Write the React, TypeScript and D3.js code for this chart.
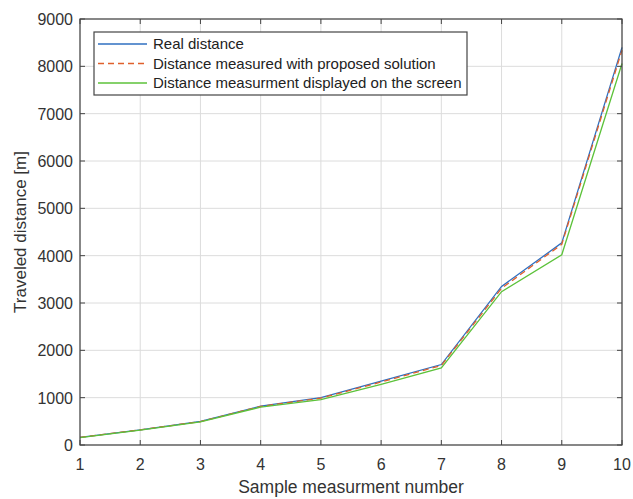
import React from "react";
import * as d3 from "d3";

const samples = [1, 2, 3, 4, 5, 6, 7, 8, 9, 10];
const realDistance = [160, 320, 500, 820, 1000, 1350, 1700, 3350, 4270, 8400];
const proposedDistance = [160, 320, 495, 815, 990, 1330, 1680, 3310, 4240, 8340];
const screenDistance = [155, 315, 490, 800, 960, 1280, 1630, 3240, 4020, 8060];
const yTicks = [0, 1000, 2000, 3000, 4000, 5000, 6000, 7000, 8000, 9000];

const series = [
  { name: "Real distance", values: realDistance, color: "#2f6fc0", dash: "none" },
  { name: "Distance measured with proposed solution", values: proposedDistance, color: "#e0602c", dash: "6,4" },
  { name: "Distance measurment displayed on the screen", values: screenDistance, color: "#5cc23a", dash: "none" },
];

const W = 633;
const H = 499;
const left = 80;
const right = 622;
const top = 19;
const bottom = 445;
const textColor = "#333";
const font = "'Liberation Sans', Arial, sans-serif";

export default function App() {
  const x = d3.scaleLinear().domain([1, 10]).range([left, right]);
  const y = d3.scaleLinear().domain([0, 9000]).range([bottom, top]);
  const line = d3
    .line<number>()
    .x((d, i) => x(samples[i]))
    .y(d => y(d));

  return (
    <svg
      width={W}
      height={H}
      style={{ position: "absolute", left: 0, top: 0, background: "#fff" }}
      fontFamily={font}
    >
      {/* grid */}
      {samples.map(s => (
        <line key={"gx" + s} x1={x(s)} x2={x(s)} y1={top} y2={bottom} stroke="#dcdcdc" strokeWidth={1} />
      ))}
      {yTicks.map(t => (
        <line key={"gy" + t} x1={left} x2={right} y1={y(t)} y2={y(t)} stroke="#dcdcdc" strokeWidth={1} />
      ))}

      {/* data */}
      {series.map(s => (
        <path
          key={s.name}
          d={line(s.values) || ""}
          fill="none"
          stroke={s.color}
          strokeWidth={1.3}
          strokeDasharray={s.dash}
        />
      ))}

      {/* box and ticks */}
      <rect x={left} y={top} width={right - left} height={bottom - top} fill="none" stroke="#444" strokeWidth={1.2} />
      {samples.map(s => (
        <g key={"tx" + s}>
          <line x1={x(s)} x2={x(s)} y1={bottom} y2={bottom - 5} stroke="#444" />
          <line x1={x(s)} x2={x(s)} y1={top} y2={top + 5} stroke="#444" />
          <text x={x(s)} y={470} textAnchor="middle" fontSize={16} fill={textColor}>
            {s}
          </text>
        </g>
      ))}
      {yTicks.map(t => (
        <g key={"ty" + t}>
          <line x1={left} x2={left + 5} y1={y(t)} y2={y(t)} stroke="#444" />
          <line x1={right} x2={right - 5} y1={y(t)} y2={y(t)} stroke="#444" />
          <text x={left - 7} y={y(t) + 6} textAnchor="end" fontSize={16} fill={textColor}>
            {t}
          </text>
        </g>
      ))}

      {/* axis labels */}
      <text x={(left + right) / 2} y={493} textAnchor="middle" fontSize={17.5} fill={textColor}>
        Sample measurment number
      </text>
      <text
        transform={`translate(26, ${(top + bottom) / 2}) rotate(-90)`}
        textAnchor="middle"
        fontSize={17}
        fill={textColor}
      >
        Traveled distance [m]
      </text>

      {/* legend */}
      <rect x={94} y={32} width={373} height={63} fill="#fff" stroke="#444" strokeWidth={1.2} />
      {series.map((s, i) => (
        <g key={"lg" + s.name} transform={`translate(0, ${44 + i * 19.5})`}>
          <line x1={98} x2={147} y1={0} y2={0} stroke={s.color} strokeWidth={1.3} strokeDasharray={s.dash} />
          <text x={153} y={5} fontSize={15} fill="#222">
            {s.name}
          </text>
        </g>
      ))}
    </svg>
  );
}
